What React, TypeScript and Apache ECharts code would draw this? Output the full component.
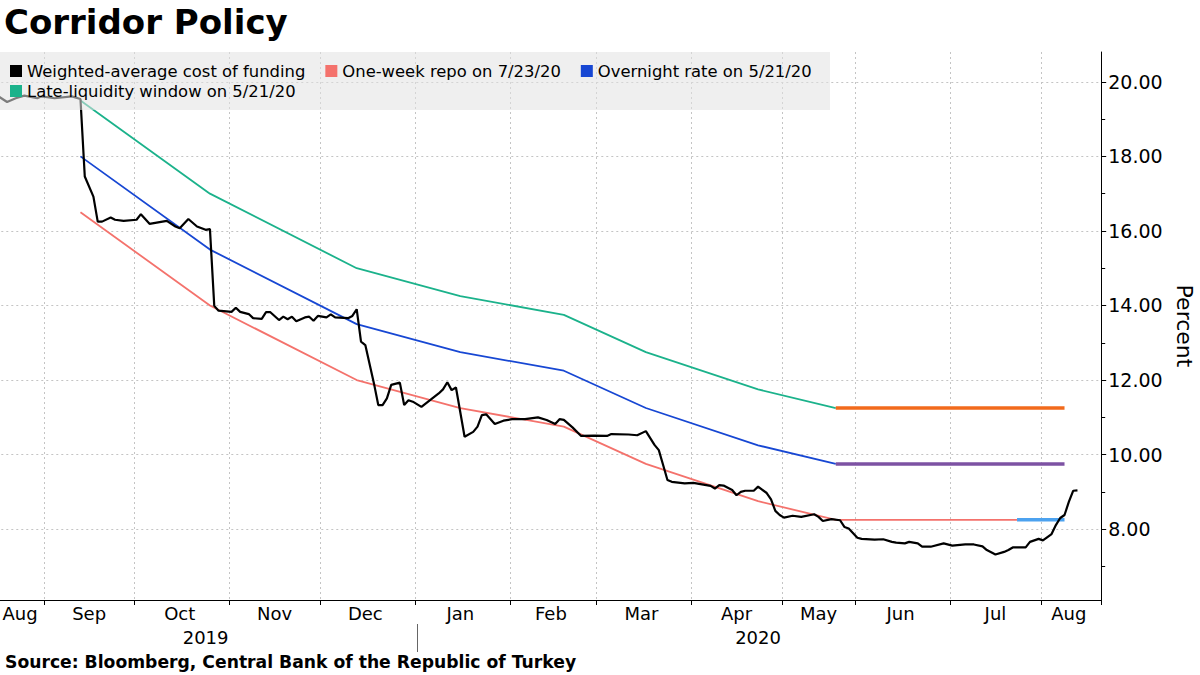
import React, { useEffect, useRef } from "react";
import * as echarts from "echarts";

const FONT = "DejaVu Sans";

// Trading-day calendar (Borsa Istanbul) used as the x categories
const CAL_START = "2019-08-15";
const CAL_END = "2020-08-21";
const HOLIDAYS = [
  "2019-08-30", "2019-10-29", "2020-01-01", "2020-04-23", "2020-05-01",
  "2020-05-19", "2020-05-25", "2020-05-26", "2020-07-15", "2020-07-31", "2020-08-03",
];
const MONTH_NAMES = ["Jan", "Feb", "Mar", "Apr", "May", "Jun", "Jul", "Aug", "Sep", "Oct", "Nov", "Dec"];

// Policy decisions
const policyDates = ["2019-09-12", "2019-10-24", "2019-12-12", "2020-01-16", "2020-02-19", "2020-03-17", "2020-04-22", "2020-05-21"];
const repoRate = [16.5, 14.0, 12.0, 11.25, 10.75, 9.75, 8.75, 8.25];
const overnightRate = [18.0, 15.5, 13.5, 12.75, 12.25, 11.25, 10.25, 9.75];
const lateLiquidityRate = [19.5, 17.0, 15.0, 14.25, 13.75, 12.75, 11.75, 11.25];
const repoHoldDate = "2020-07-23";
const holdEndDate = "2020-08-11";

// Weighted-average cost of funding
const fundingCost: [string, number][] = [
  ["2019-08-15", 19.61], ["2019-08-19", 19.46], ["2019-08-21", 19.56], ["2019-08-23", 19.63], ["2019-08-28", 19.56], ["2019-08-29", 19.61],
  ["2019-09-04", 19.56], ["2019-09-10", 19.61], ["2019-09-12", 19.54], ["2019-09-13", 17.46], ["2019-09-17", 16.92], ["2019-09-18", 16.25],
  ["2019-09-19", 16.25], ["2019-09-23", 16.36], ["2019-09-24", 16.30], ["2019-09-26", 16.27],
  ["2019-10-01", 16.30], ["2019-10-02", 16.45], ["2019-10-04", 16.19], ["2019-10-10", 16.27], ["2019-10-14", 16.12], ["2019-10-15", 16.07],
  ["2019-10-17", 16.32], ["2019-10-21", 16.12], ["2019-10-23", 16.03], ["2019-10-24", 16.05], ["2019-10-25", 13.99], ["2019-10-28", 13.86],
  ["2019-11-01", 13.83], ["2019-11-04", 13.94], ["2019-11-05", 13.83], ["2019-11-07", 13.77], ["2019-11-08", 13.66], ["2019-11-12", 13.64],
  ["2019-11-13", 13.82], ["2019-11-14", 13.82], ["2019-11-18", 13.61], ["2019-11-19", 13.70], ["2019-11-20", 13.63], ["2019-11-21", 13.70],
  ["2019-11-22", 13.58], ["2019-11-26", 13.68], ["2019-11-27", 13.70], ["2019-11-28", 13.59], ["2019-11-29", 13.72],
  ["2019-12-03", 13.68], ["2019-12-04", 13.76], ["2019-12-05", 13.68], ["2019-12-10", 13.66], ["2019-12-11", 13.72], ["2019-12-12", 13.90],
  ["2019-12-13", 13.03], ["2019-12-16", 12.94], ["2019-12-18", 11.91], ["2019-12-19", 11.33], ["2019-12-20", 11.33], ["2019-12-23", 11.51],
  ["2019-12-24", 11.87], ["2019-12-26", 11.93], ["2019-12-27", 11.33], ["2019-12-30", 11.46], ["2019-12-31", 11.42],
  ["2020-01-03", 11.28], ["2020-01-07", 11.46], ["2020-01-09", 11.64], ["2020-01-10", 11.75], ["2020-01-13", 11.94], ["2020-01-14", 11.73],
  ["2020-01-15", 11.80], ["2020-01-17", 10.48], ["2020-01-21", 10.61], ["2020-01-22", 10.75], ["2020-01-23", 11.06], ["2020-01-24", 11.08],
  ["2020-01-28", 10.82], ["2020-01-30", 10.91],
  ["2020-02-03", 10.95], ["2020-02-06", 10.95], ["2020-02-11", 11.00], ["2020-02-13", 10.93], ["2020-02-17", 10.82], ["2020-02-18", 10.95],
  ["2020-02-19", 10.93], ["2020-02-21", 10.73], ["2020-02-25", 10.50], ["2020-02-28", 10.51],
  ["2020-03-04", 10.50], ["2020-03-05", 10.55], ["2020-03-11", 10.54], ["2020-03-13", 10.52], ["2020-03-17", 10.63], ["2020-03-19", 10.26],
  ["2020-03-20", 10.12], ["2020-03-23", 9.72], ["2020-03-24", 9.32], ["2020-03-25", 9.27], ["2020-03-30", 9.23],
  ["2020-04-01", 9.24], ["2020-04-03", 9.20], ["2020-04-07", 9.16], ["2020-04-08", 9.09], ["2020-04-09", 9.18], ["2020-04-10", 9.17],
  ["2020-04-14", 9.05], ["2020-04-15", 8.91], ["2020-04-16", 9.00], ["2020-04-17", 9.03], ["2020-04-21", 9.03], ["2020-04-22", 9.14],
  ["2020-04-27", 8.97], ["2020-04-28", 8.80], ["2020-04-29", 8.49], ["2020-04-30", 8.38],
  ["2020-05-04", 8.31], ["2020-05-06", 8.36], ["2020-05-08", 8.33], ["2020-05-13", 8.40], ["2020-05-14", 8.33], ["2020-05-15", 8.22],
  ["2020-05-20", 8.27], ["2020-05-22", 8.24], ["2020-05-27", 8.06], ["2020-05-28", 8.02],
  ["2020-06-01", 7.77], ["2020-06-02", 7.74], ["2020-06-05", 7.72], ["2020-06-09", 7.73], ["2020-06-11", 7.66], ["2020-06-12", 7.64],
  ["2020-06-16", 7.62], ["2020-06-17", 7.66], ["2020-06-19", 7.62], ["2020-06-22", 7.53], ["2020-06-24", 7.53], ["2020-06-29", 7.62],
  ["2020-07-01", 7.56], ["2020-07-06", 7.59], ["2020-07-08", 7.59], ["2020-07-10", 7.54], ["2020-07-13", 7.44], ["2020-07-16", 7.32],
  ["2020-07-20", 7.39], ["2020-07-21", 7.44], ["2020-07-22", 7.51], ["2020-07-27", 7.51], ["2020-07-28", 7.66], ["2020-07-30", 7.74],
  ["2020-08-04", 7.70], ["2020-08-06", 7.87], ["2020-08-07", 8.11], ["2020-08-10", 8.30], ["2020-08-11", 8.38], ["2020-08-12", 8.73],
  ["2020-08-13", 9.03], ["2020-08-14", 9.04],
];

const yMajorTicks = [8, 10, 12, 14, 16, 18, 20];
const yMinorTicks = [7, 9, 11, 13, 15, 17, 19];

const NAME_FUND = "Weighted-average cost of funding";
const NAME_REPO = "One-week repo on 7/23/20";
const NAME_ON = "Overnight rate on 5/21/20";
const NAME_LLW = "Late-liquidity window on 5/21/20";

function buildTradingDays(): string[] {
  const out: string[] = [];
  const d = new Date(CAL_START + "T00:00:00Z");
  const end = new Date(CAL_END + "T00:00:00Z");
  while (d.getTime() <= end.getTime()) {
    const iso = d.toISOString().slice(0, 10);
    const wd = d.getUTCDay();
    if (wd !== 0 && wd !== 6 && HOLIDAYS.indexOf(iso) < 0) out.push(iso);
    d.setUTCDate(d.getUTCDate() + 1);
  }
  return out;
}

function groupStarts(cats: string[], keyLen: number) {
  const starts = new Set<number>();
  const mids = new Set<number>();
  let a = 0;
  for (let i = 1; i <= cats.length; i++) {
    if (i === cats.length || cats[i].slice(0, keyLen) !== cats[i - 1].slice(0, keyLen)) {
      mids.add(Math.floor((a + i - 1) / 2));
      if (i < cats.length) starts.add(i);
      a = i;
    }
  }
  return { starts, mids };
}

export default function App() {
  const ref = useRef<HTMLDivElement>(null);

  useEffect(() => {
    if (!ref.current) return;
    const chart = echarts.init(ref.current, undefined, { renderer: "svg" });
    const cats = buildTradingDays();
    const month = groupStarts(cats, 7);
    const year = groupStarts(cats, 4);
    const last = policyDates.length - 1;

    const pairs = (vals: number[]) => policyDates.map((d, i) => [d, vals[i]]);

    const lineSeries = (name: string, data: any[], color: string, width: number, z = 2) => ({
      type: "line",
      name,
      data,
      color,
      symbol: "none",
      showSymbol: false,
      silent: true,
      z,
      lineStyle: { color, width, cap: "butt" },
      emphasis: { disabled: true },
    });

    const legendText = { fontFamily: FONT, fontSize: 16.4, color: "#000" };

    const option: any = {
      animation: false,
      backgroundColor: "#ffffff",
      textStyle: { fontFamily: FONT },
      title: [
        {
          text: "Corridor Policy",
          left: 4,
          top: 5,
          padding: 0,
          textStyle: { fontFamily: FONT, fontSize: 34, fontWeight: "bold", color: "#000" },
        },
        {
          text: "Source: Bloomberg, Central Bank of the Republic of Turkey",
          left: 5,
          top: 653,
          padding: 0,
          textStyle: { fontFamily: FONT, fontSize: 17.2, fontWeight: "bold", color: "#000" },
        },
      ],
      graphic: [
        {
          type: "rect",
          left: 0,
          top: 52,
          z: 3,
          silent: true,
          shape: { width: 830, height: 58 },
          style: { fill: "rgba(226,226,226,0.55)" },
        },
      ],
      legend: [
        {
          data: [NAME_FUND, NAME_REPO, NAME_ON],
          left: 10,
          top: 63,
          padding: 0,
          itemWidth: 12,
          itemHeight: 12,
          itemGap: 20,
          icon: "rect",
          selectedMode: false,
          textStyle: legendText,
        },
        {
          data: [NAME_LLW],
          left: 10,
          top: 83,
          padding: 0,
          itemWidth: 12,
          itemHeight: 12,
          icon: "rect",
          selectedMode: false,
          textStyle: legendText,
        },
      ],
      grid: { left: -3.7, right: 98.8, top: 52, bottom: 75, outerBoundsMode: "none", containLabel: false },
      xAxis: [
        {
          type: "category",
          data: cats,
          boundaryGap: true,
          axisLine: { show: true, lineStyle: { color: "#000", width: 1 } },
          axisTick: { show: true, interval: (i: number) => month.starts.has(i), length: 5, lineStyle: { color: "#000" } },
          axisLabel: {
            interval: (i: number) => month.mids.has(i),
            formatter: (v: string) => MONTH_NAMES[parseInt(v.slice(5, 7), 10) - 1],
            fontFamily: FONT,
            fontSize: 18,
            color: "#000",
            margin: 4,
          },
          splitLine: { show: true, interval: (i: number) => month.starts.has(i), lineStyle: { color: "#c4c4c4", type: [2, 3], width: 1 } },
        },
        {
          type: "category",
          data: cats,
          position: "bottom",
          offset: 24,
          boundaryGap: true,
          axisLine: { show: false },
          axisTick: { show: true, alignWithLabel: true, interval: (i: number) => year.starts.has(i), length: 28, lineStyle: { color: "#666" } },
          axisLabel: {
            interval: (i: number) => year.mids.has(i),
            formatter: (v: string) => v.slice(0, 4),
            fontFamily: FONT,
            fontSize: 18,
            color: "#000",
            margin: 4,
          },
          splitLine: { show: false },
        },
      ],
      yAxis: [
        {
          type: "value",
          position: "right",
          min: 6.1,
          max: 20.8,
          name: "Percent",
          nameLocation: "middle",
          nameRotate: -90,
          nameGap: 72,
          nameTextStyle: { fontFamily: FONT, fontSize: 22, color: "#000" },
          axisLine: { show: true, lineStyle: { color: "#000", width: 1 } },
          axisTick: { show: true, customValues: yMajorTicks, length: 5, lineStyle: { color: "#000" } },
          axisLabel: {
            customValues: yMajorTicks,
            formatter: (v: number) => v.toFixed(2),
            fontFamily: FONT,
            fontSize: 19,
            color: "#000",
            margin: 7,
          },
          splitLine: { show: true, lineStyle: { color: "#c4c4c4", type: [2, 3], width: 1 } },
        },
        {
          type: "value",
          position: "right",
          min: 6.1,
          max: 20.8,
          axisLine: { show: false },
          axisTick: { show: true, customValues: yMinorTicks, length: 4, lineStyle: { color: "#000" } },
          axisLabel: { show: false },
          splitLine: { show: false },
        },
      ],
      series: [
        lineSeries(NAME_LLW, pairs(lateLiquidityRate), "#1bb28b", 1.8),
        lineSeries(NAME_ON, pairs(overnightRate), "#1747d3", 1.8),
        lineSeries(NAME_REPO, [...pairs(repoRate), [repoHoldDate, repoRate[last]]], "#f4726c", 1.8),
        lineSeries("Late-liquidity hold", [[policyDates[last], lateLiquidityRate[last]], [holdEndDate, lateLiquidityRate[last]]], "#f26a1b", 3.5),
        lineSeries("Overnight hold", [[policyDates[last], overnightRate[last]], [holdEndDate, overnightRate[last]]], "#7d52a3", 3.5),
        lineSeries("Repo hold", [[repoHoldDate, repoRate[last]], [holdEndDate, repoRate[last]]], "#4ca2ef", 3.5),
        lineSeries(NAME_FUND, fundingCost, "#000000", 2.2, 2),
      ],
    };

    chart.setOption(option);
    return () => chart.dispose();
  }, []);

  return (
    <div
      ref={ref}
      style={{ position: "absolute", left: 0, top: 0, width: 1200, height: 675, background: "#fff" }}
    />
  );
}
